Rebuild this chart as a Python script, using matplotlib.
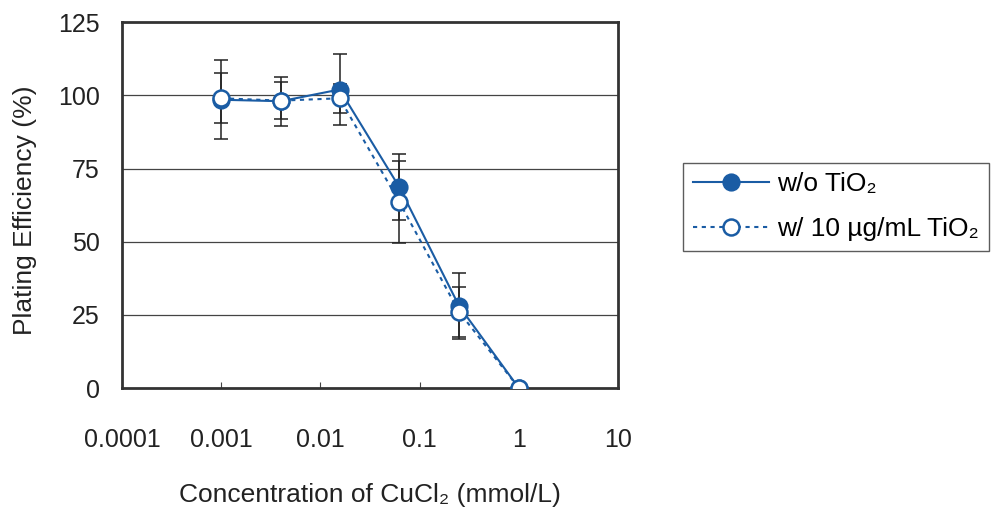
import matplotlib
matplotlib.use('Agg')
import matplotlib.pyplot as plt
import numpy as np

plt.rcParams['font.family'] = ['Liberation Sans', 'DejaVu Sans']

# ── data ──────────────────────────────────────────────
conc = [0.001, 0.004, 0.0156, 0.0625, 0.25, 1.0]

pe_without = [98.5, 98.0, 102.0, 68.6, 28.0, 0.0]
err_without = [13.5, 8.3, 12.0, 11.3, 11.3, 0.0]

pe_with = [99.0, 98.2, 99.0, 63.5, 26.0, 0.0]
err_with = [8.5, 6.3, 5.0, 14.0, 8.5, 0.0]

xticks = [0.0001, 0.001, 0.01, 0.1, 1, 10]
xtick_labels = ['0.0001', '0.001', '0.01', '0.1', '1', '10']
yticks = [0, 25, 50, 75, 100, 125]

blue = '#1a5ca4'
fs_tick = 18
fs_lab = 19

fig = plt.figure(figsize=(9.93, 5.16), dpi=100)
ax = fig.add_axes([0.1229, 0.248, 0.4995, 0.709])

# error bars (behind markers)
ax.errorbar(conc, pe_without, yerr=err_without, fmt='none', ecolor='#222222',
            elinewidth=1.1, capsize=4.8, capthick=1.1, zorder=2)
ax.errorbar(conc, pe_with, yerr=err_with, fmt='none', ecolor='#222222',
            elinewidth=1.1, capsize=4.8, capthick=1.1, zorder=2)

ax.plot(conc, pe_without, color=blue, lw=1.5, marker='o', ms=11.5,
        mfc=blue, mec=blue, mew=1.6, label='w/o TiO\u2082', zorder=3)
ax.plot(conc, pe_with, color=blue, lw=1.5, ls=(0, (2, 2.2)), marker='o', ms=11.5,
        mfc='white', mec=blue, mew=1.8, label='w/ 10 \u00b5g/mL TiO\u2082', zorder=4)

ax.set_xscale('log')
ax.set_xlim(0.0001, 10)
ax.set_ylim(0, 125)
ax.set_xticks(xticks)
ax.set_xticklabels(xtick_labels)
ax.xaxis.set_minor_locator(matplotlib.ticker.NullLocator())
ax.set_yticks(yticks)

for y in yticks[1:-1]:
    ax.axhline(y, color='#444444', lw=0.9, zorder=1)

for s in ax.spines.values():
    s.set_linewidth(2.0)
    s.set_color('#333333')

ax.tick_params(axis='x', direction='in', length=4, width=0.8, colors='#444444',
               labelcolor='#222222', labelsize=fs_tick, pad=29)
ax.tick_params(axis='y', length=0, labelcolor='#222222', labelsize=fs_tick, pad=16)

ax.set_xlabel('Concentration of CuCl\u2082 (mmol/L)', fontsize=fs_lab,
              color='#222222', labelpad=22)
ax.set_ylabel('Plating Efficiency (%)', fontsize=fs_lab, color='#222222')
ax.yaxis.set_label_coords(-0.172, 0.485)

leg = fig.legend(loc='center left', bbox_to_anchor=(0.688, 0.599), fontsize=fs_lab,
                 frameon=True, fancybox=False, edgecolor='#333333',
                 handlelength=2.9, handletextpad=0.3, borderpad=0.36,
                 labelspacing=0.8, borderaxespad=0)
leg.get_frame().set_linewidth(1.0)

fig.savefig('out.png', dpi=100)
